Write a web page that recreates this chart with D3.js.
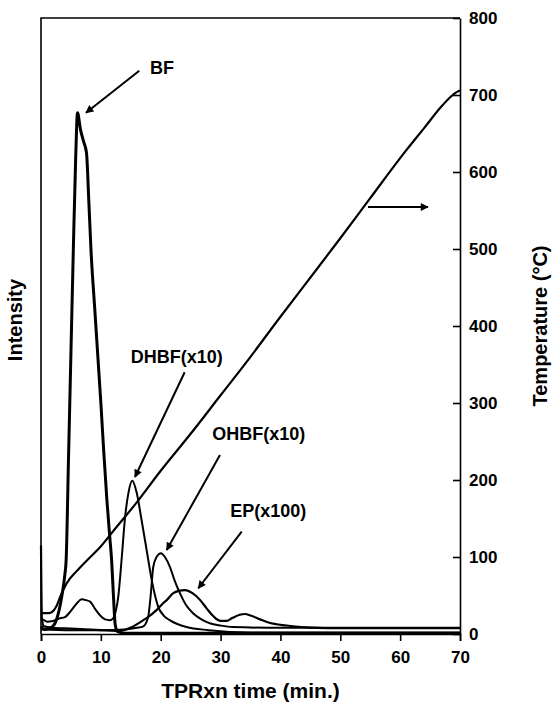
<!DOCTYPE html>
<html>
<head>
<meta charset="utf-8">
<script src="https://cdn.jsdelivr.net/npm/d3@7"></script>
<style>
  body { margin: 0; background: #fff; }
  svg { font-family: "Liberation Sans", Arial, sans-serif; font-weight: bold; }
  .axis text { font-size: 17px; font-weight: bold; }
  .axis path, .axis line { stroke: #000; stroke-width: 1.6; }
</style>
</head>
<body>
<div id="chart"></div>
<script>
// x: TPRxn time (min.), y: intensity (same pixel scale as temperature) or temperature (°C)
const xTicks = [0, 10, 20, 30, 40, 50, 60, 70];
const tempTicks = [0, 100, 200, 300, 400, 500, 600, 700, 800];

const bfPoints = [[0,10],[0.6,6],[1.2,7],[1.8,9],[2.34,14],[3,30],[3.6,55],[4.0,78],[4.2,96],[4.6,230],[5.0,365],[5.4,499],
  [5.8,620],[6.1,677],[6.6,655],[7.1,640],[7.6,625],[8.0,560],[8.35,499],[9,420],[9.5,360],[10,300],[10.5,235],[11,175],
  [11.5,125],[11.8,96],[12.1,50],[12.4,12],[12.8,3],[14,1],[20,1],[30,1],[40,1],[50,1],[60,1],[70,1]];

const dhbfPoints = [[0,20],[0.5,18],[1,16],[2,17],[3,20],[4,22],[5,30],[6,40],[6.8,45],[7.5,44],[8.2,42],[9,33],[9.9,24],
  [10.7,19],[11.5,18],[12,20],[12.5,30],[12.9,48],[13.5,100],[14,148],[14.6,183],[15.25,199],[16,183],[16.8,148],
  [17.65,109],[18.5,70],[19.6,35],[20.5,24],[21.5,18],[24.3,9],[28,5],[35,2],[50,2],[70,2]];

const ohbfPoints = [[0,6],[5,5],[10,5],[14,6],[16,8],[17.1,10],[17.9,22],[18.3,48],[18.75,87],[19.3,100],[20.05,105],
  [20.7,100],[21.55,87],[22.3,70],[23.2,53],[24.2,38],[25.4,27],[26.8,19],[28.2,14],[30,11],[32,9],[40,8],[50,8],[60,8],[70,8]];

const epPoints = [[0,115],[0.15,20],[0.5,10],[2,8],[5,7],[10,5],[13.2,4],[14.9,8],[17.1,18],[17.7,21],[19.3,31],[20.4,40],
  [21,44],[22.1,53],[23,56],[24.05,57],[25.3,53],[26.6,44],[27.7,33],[28.8,23],[30,17],[31,17],[32,21],[33.2,25],[34.1,26],
  [35,24],[36.6,19],[38,15],[41,11],[44.4,8.5],[48,7.5],[55,7.5],[70,7.5]];

const tempPoints = [[0,27],[1,27],[1.7,28],[2.5,35],[3.3,50],[4.3,66],[6,82],[8,98],[9.9,113],[12,133],[16,171],[20,212],
  [25,260],[30,310],[35,360],[40,412],[46,473],[50,514],[55,566],[61,628],[64,657],[67,686],[68.5,698],[69.3,703],[70,706]];

const labels = [
  { text: 'BF', t: 18.2, v: 727 },
  { text: 'DHBF(x10)', t: 15.0, v: 352 },
  { text: 'OHBF(x10)', t: 28.6, v: 252 },
  { text: 'EP(x100)', t: 31.6, v: 152 }
];
const arrows = [
  { from: [16.42, 731.6], to: [7.52, 677] },
  { from: [24.0, 340], to: [15.70, 203.9] },
  { from: [29.9, 232.5], to: [21.0, 109.1] },
  { from: [33.53, 132.9], to: [26.28, 59.4] },
  { from: [54.63, 554.5], to: [64.65, 554.5] }
];

class TprChart {
  constructor(_config) {
    this.config = {
      parentElement: _config.parentElement,
      containerWidth: 552,
      containerHeight: 702,
      plot: { left: 41, right: 460, top: 18, bottom: 634 }
    };
    this.initVis();
  }

  initVis() {
    let vis = this;

    vis.svg = d3.select(vis.config.parentElement).append('svg')
      .attr('width', vis.config.containerWidth)
      .attr('height', vis.config.containerHeight);

    const p = vis.config.plot;
    vis.xScale = d3.scaleLinear().domain([0, 70]).range([p.left, p.right]);
    vis.yScale = d3.scaleLinear().domain([0, 800]).range([p.bottom, p.top]);

    vis.svg.append('defs').append('marker')
      .attr('id', 'head')
      .attr('viewBox', '0 0 10 10')
      .attr('refX', 9).attr('refY', 5)
      .attr('markerWidth', 5).attr('markerHeight', 4)
      .attr('markerUnits', 'strokeWidth')
      .attr('orient', 'auto')
      .append('path')
        .attr('d', 'M0,0 L10,5 L0,10 Z')
        .attr('fill', '#000');

    vis.renderVis();
  }

  renderVis() {
    let vis = this;
    const p = vis.config.plot;

    // frame: left and top lines
    vis.svg.append('path')
      .attr('d', `M${p.left},${vis.yScale(0)} V${vis.yScale(800)} H${p.right}`)
      .attr('fill', 'none').attr('stroke', '#000').attr('stroke-width', 1.6);

    const line = d3.line()
      .x(d => vis.xScale(d[0]))
      .y(d => vis.yScale(d[1]))
      .curve(d3.curveMonotoneX);

    const series = [
      { pts: ohbfPoints, w: 2 },
      { pts: epPoints, w: 2.2 },
      { pts: dhbfPoints, w: 2 },
      { pts: bfPoints, w: 3 },
      { pts: tempPoints, w: 2.2 }
    ];
    vis.svg.selectAll('.series')
      .data(series)
      .join('path')
        .attr('class', 'series')
        .attr('d', d => line(d.pts))
        .attr('fill', 'none')
        .attr('stroke', '#000')
        .attr('stroke-width', d => d.w)
        .attr('stroke-linejoin', 'round');

    // axes
    const xAxis = d3.axisBottom(vis.xScale).tickValues(xTicks).tickSize(7).tickPadding(10).tickFormat(d3.format('d'));
    vis.svg.append('g')
      .attr('class', 'axis')
      .attr('transform', `translate(0,${vis.yScale(0)})`)
      .call(xAxis);

    const yAxis = d3.axisRight(vis.yScale).tickValues(tempTicks).tickSizeInner(-7).tickSizeOuter(0);
    vis.svg.append('g')
      .attr('class', 'axis')
      .attr('transform', `translate(${p.right},0)`)
      .call(yAxis)
      .call(g => g.selectAll('.tick text').attr('x', 9));

    // axis titles
    vis.svg.append('text')
      .attr('x', (p.left + p.right) / 2).attr('y', 698)
      .attr('text-anchor', 'middle')
      .style('font-size', '21px')
      .text('TPRxn time (min.)');

    vis.svg.append('text')
      .attr('transform', 'translate(22,320) rotate(-90)')
      .attr('text-anchor', 'middle')
      .style('font-size', '20px')
      .text('Intensity');

    vis.svg.append('text')
      .attr('transform', 'translate(547,326) rotate(-90)')
      .attr('text-anchor', 'middle')
      .style('font-size', '20px')
      .text('Temperature (°C)');

    // annotations
    vis.svg.selectAll('.label')
      .data(labels)
      .join('text')
        .attr('class', 'label')
        .attr('x', d => vis.xScale(d.t))
        .attr('y', d => vis.yScale(d.v))
        .style('font-size', '18px')
        .text(d => d.text);

    vis.svg.selectAll('.arrow')
      .data(arrows)
      .join('line')
        .attr('class', 'arrow')
        .attr('x1', d => vis.xScale(d.from[0]))
        .attr('y1', d => vis.yScale(d.from[1]))
        .attr('x2', d => vis.xScale(d.to[0]))
        .attr('y2', d => vis.yScale(d.to[1]))
        .attr('stroke', '#000')
        .attr('stroke-width', 2)
        .attr('marker-end', 'url(#head)');
  }
}

new TprChart({ parentElement: '#chart' });
</script>
</body>
</html>
